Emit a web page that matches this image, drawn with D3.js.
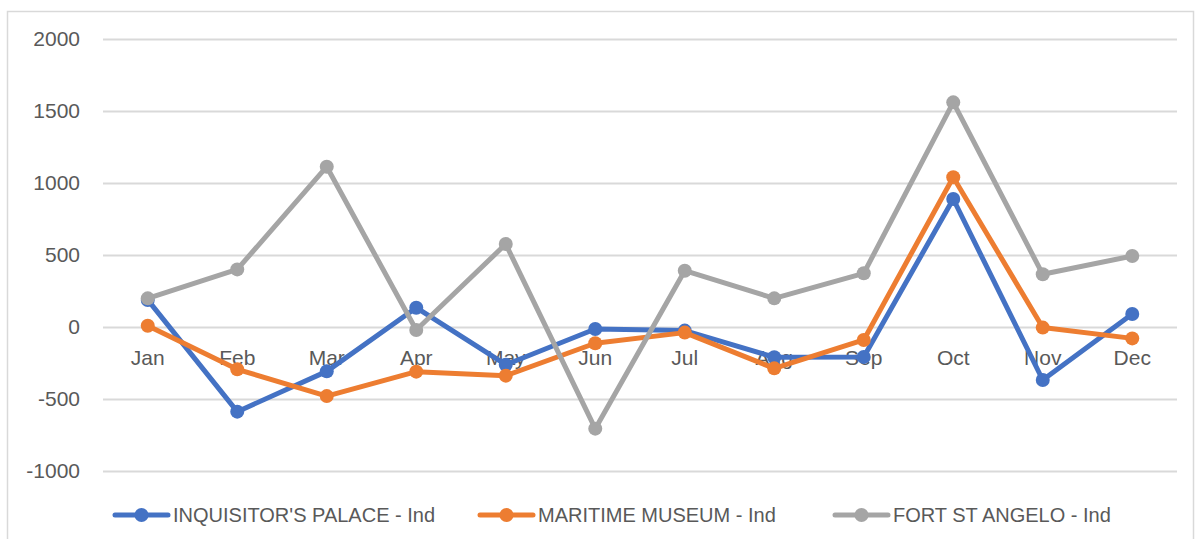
<!DOCTYPE html>
<html>
<head>
<meta charset="utf-8">
<script src="https://cdn.jsdelivr.net/npm/d3@7"></script>
<style>
  body { margin: 0; background: #fff; }
  svg { display: block; font-family: "Liberation Sans", Arial, sans-serif; }
</style>
</head>
<body>
<svg id="chart" width="1195" height="539"></svg>
<script>
// data
const months = ["Jan", "Feb", "Mar", "Apr", "May", "Jun", "Jul", "Aug", "Sep", "Oct", "Nov", "Dec"];
const inquisitorsPalace = [188, -588, -308, 134, -262, -14, -25, -210, -208, 889, -368, 90];
const maritimeMuseum = [9, -294, -480, -310, -338, -113, -39, -287, -90, 1040, -4, -79];
const fortStAngelo = [199, 400, 1113, -21, 576, -706, 391, 199, 373, 1560, 366, 493];
const seriesNames = ["INQUISITOR'S PALACE - Ind", "MARITIME MUSEUM - Ind", "FORT ST ANGELO - Ind"];
const yTicks = [-1000, -500, 0, 500, 1000, 1500, 2000];

const series = [
  { name: seriesNames[0], values: inquisitorsPalace, color: "#4472C4" },
  { name: seriesNames[1], values: maritimeMuseum, color: "#ED7D31" },
  { name: seriesNames[2], values: fortStAngelo, color: "#A5A5A5" }
];

const svg = d3.select("#chart");
const textColor = "#595959";
const gridColor = "#d9d9d9";

// outer chart frame
svg.append("rect")
  .attr("x", 7.5).attr("y", 11.5)
  .attr("width", 1186).attr("height", 540)
  .attr("fill", "none")
  .attr("stroke", gridColor)
  .attr("stroke-width", 1.5);

const plot = { left: 103, right: 1177, top: 39, bottom: 471 };

const x = d3.scaleBand()
  .domain(months)
  .range([plot.left, plot.right])
  .padding(0);

const y = d3.scaleLinear()
  .domain([-1000, 2000])
  .range([plot.bottom, plot.top]);

// gridlines
svg.append("g")
  .attr("transform", `translate(${plot.left},0)`)
  .call(d3.axisLeft(y).tickValues(yTicks).tickSize(-(plot.right - plot.left)).tickFormat(""))
  .call(g => g.select(".domain").remove())
  .call(g => g.selectAll("line").attr("stroke", gridColor).attr("stroke-width", 2));

// y labels
svg.append("g")
  .attr("transform", `translate(${plot.left},0)`)
  .call(d3.axisLeft(y).tickValues(yTicks).tickSize(0).tickPadding(23).tickFormat(d => d))
  .call(g => g.select(".domain").remove())
  .call(g => g.selectAll("text")
    .attr("fill", textColor)
    .style("font-family", "Liberation Sans, Arial, sans-serif")
    .style("font-size", "21px"));

// month labels sit just under the zero line
svg.append("g")
  .attr("transform", `translate(0,${y(0)})`)
  .call(d3.axisBottom(x).tickSize(0).tickPadding(23))
  .call(g => g.select(".domain").remove())
  .call(g => g.selectAll("text")
    .attr("fill", textColor)
    .style("font-family", "Liberation Sans, Arial, sans-serif")
    .style("font-size", "21px"));

const cx = d => x(d) + x.bandwidth() / 2;
const line = d3.line()
  .x((d, i) => cx(months[i]))
  .y(d => y(d));

series.forEach(s => {
  const g = svg.append("g");
  g.append("path")
    .datum(s.values)
    .attr("fill", "none")
    .attr("stroke", s.color)
    .attr("stroke-width", 5)
    .attr("stroke-linejoin", "round")
    .attr("stroke-linecap", "round")
    .attr("d", line);
  g.selectAll("circle").data(s.values).join("circle")
    .attr("cx", (d, i) => cx(months[i]))
    .attr("cy", d => y(d))
    .attr("r", 7)
    .attr("fill", s.color);
});

// legend
const legendX = [115, 480, 835];
const legend = svg.append("g").attr("transform", "translate(0,515)");
series.forEach((s, i) => {
  const lg = legend.append("g").attr("transform", `translate(${legendX[i]},0)`);
  lg.append("line")
    .attr("x1", 0).attr("x2", 53)
    .attr("stroke", s.color)
    .attr("stroke-width", 5)
    .attr("stroke-linecap", "round");
  lg.append("circle").attr("cx", 26.5).attr("r", 7).attr("fill", s.color);
  lg.append("text")
    .attr("x", 58).attr("y", 7)
    .attr("fill", textColor)
    .style("font-size", "20px")
    .text(s.name);
});
</script>
</body>
</html>
